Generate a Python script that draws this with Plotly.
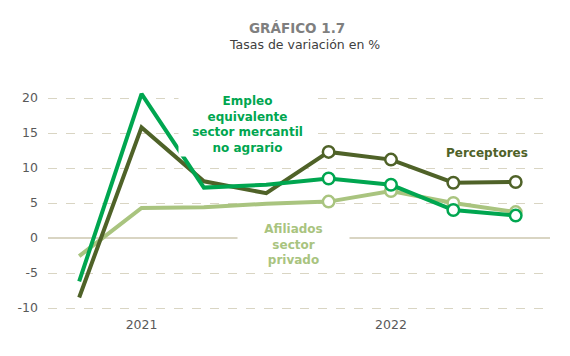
import plotly.graph_objects as go

quarters = ["2021-T1", "2021-T2", "2021-T3", "2021-T4", "2022-T1", "2022-T2", "2022-T3", "2022-T4"]
x_idx = list(range(len(quarters)))
tick_pos = [1, 5]
tick_labels = ["2021", "2022"]
y_ticks = [-10, -5, 0, 5, 10, 15, 20]
y_tick_labels = ["-10", "-5", "0", "5", "10", "15", "20"]

afiliados = [-2.6, 4.3, 4.4, 4.9, 5.2, 6.7, 5.0, 3.7]
empleo = [-6.2, 20.6, 7.2, 7.6, 8.5, 7.6, 4.0, 3.2]
perceptores = [-8.5, 15.8, 8.1, 6.4, 12.3, 11.2, 7.9, 8.0]

C_DARK = "#4F6228"
C_GREEN = "#00A650"
C_LIGHT = "#A9C47F"
GRID = "#D9D5C3"

fig = go.Figure()

def add_series(vals, color):
    fig.add_trace(go.Scatter(x=x_idx, y=vals, mode="lines",
                             line=dict(color=color, width=4), hoverinfo="skip",
                             showlegend=False))
    fig.add_trace(go.Scatter(x=x_idx[4:], y=vals[4:], mode="markers",
                             marker=dict(size=11.5, color="white",
                                         line=dict(color=color, width=2.5)),
                             showlegend=False))

add_series(afiliados, C_LIGHT)
add_series(perceptores, C_DARK)
add_series(empleo, C_GREEN)

font_lbl = "Tahoma, Verdana, DejaVu Sans, sans-serif"

fig.add_annotation(x=2.70, y=16.2, xref="x", yref="y",
                   text="<b>Empleo<br>equivalente<br>sector mercantil<br>no agrario</b>",
                   showarrow=False, font=dict(color=C_GREEN, size=12, family=font_lbl),
                   bgcolor="white", align="center", width=135, borderpad=1)
fig.add_annotation(x=6.54, y=12.2, xref="x", yref="y",
                   text="<b>Perceptores</b>",
                   showarrow=False, font=dict(color=C_DARK, size=12, family=font_lbl),
                   align="center")
fig.add_annotation(x=3.43, y=-0.9, xref="x", yref="y",
                   text="<b>Afiliados<br>sector<br>privado</b>",
                   showarrow=False, font=dict(color=C_LIGHT, size=12, family=font_lbl),
                   bgcolor="white", align="center", width=103, borderpad=4)

fig.add_annotation(x=0.496, y=1.242, xref="paper", yref="paper", xanchor="center", yanchor="middle",
                   text="<b>GRÁFICO 1.7</b>", showarrow=False,
                   font=dict(color="#7F7F7F", size=13.5, family=font_lbl))
fig.add_annotation(x=0.51, y=1.173, xref="paper", yref="paper", xanchor="center", yanchor="middle",
                   text="Tasas de variación en %", showarrow=False,
                   font=dict(color="#404040", size=12.5, family=font_lbl))

fig.update_layout(
    width=562, height=348,
    margin=dict(l=40, r=20, t=76, b=41),
    paper_bgcolor="white", plot_bgcolor="white",
    font=dict(family=font_lbl, color="#595959", size=13),
)
fig.update_xaxes(range=[-0.5, 7.55], tickvals=tick_pos, ticktext=tick_labels,
                 showgrid=False, zeroline=False, showline=False, ticks="",
                 tickfont=dict(size=12.5, color="#595959"), fixedrange=True,
                 automargin=False)
fig.update_yaxes(range=[-11, 22], tickvals=y_ticks, ticktext=y_tick_labels,
                 showgrid=True, gridcolor=GRID, griddash="dash", gridwidth=1,
                 zeroline=True, zerolinecolor=GRID, zerolinewidth=1.5,
                 showline=False, ticks="", ticklabelstandoff=9,
                 tickfont=dict(size=12.5, color="#595959"), fixedrange=True,
                 automargin=False)

fig.write_html("out.html")
